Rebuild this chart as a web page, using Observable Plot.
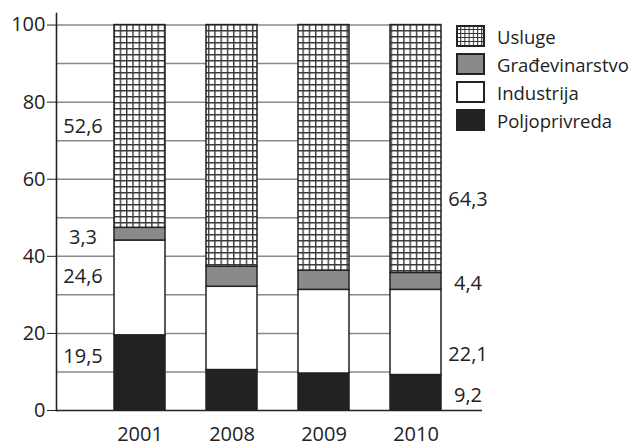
<!DOCTYPE html>
<html>
<head>
<meta charset="utf-8">
<script src="https://cdn.jsdelivr.net/npm/d3@7"></script>
<script src="https://cdn.jsdelivr.net/npm/@observablehq/plot@0.6"></script>
<style>
  body { margin: 0; background: #fff; }
  #chart { position: relative; width: 634px; height: 447px; font-family: "Open Sans", sans-serif; color: #222; }
  #chart svg { display: block; }
  #legend { position: absolute; left: 456px; top: 22px; }
  .item { display: flex; align-items: center; height: 28px; }
  .item svg { margin-right: 12px; }
  .item span { font-size: 18.5px; line-height: 21px; }
</style>
</head>
<body>
<div id="chart"></div>
<script>
// ---- data ----
const years = ["2001", "2008", "2009", "2010"];
const sectors = ["Poljoprivreda", "Industrija", "Građevinarstvo", "Usluge"];
const poljoprivreda = [19.5, 10.5, 9.6, 9.2];
const industrija = [24.6, 21.6, 21.7, 22.1];
const gradjevinarstvo = [3.3, 5.2, 5.0, 4.4];
const usluge = [52.6, 62.7, 63.7, 64.3];
const yTicks = [0, 20, 40, 60, 80, 100];
const gridLines = [10, 20, 30, 40, 50, 60, 70, 80, 90, 100];
const legendOrder = ["Usluge", "Građevinarstvo", "Industrija", "Poljoprivreda"];

// ---- styles ----
const sectorColors = ["#222222", "#ffffff", "#8a8a8a", "url(#hatch)"];
const nudge2001 = [-16, -11, 3, 0];    // pixel nudges of labels (polj, ind, građ, usl)
const nudge2010 = [3, 22, 2, 51];

const series = [poljoprivreda, industrija, gradjevinarstvo, usluge];
const data = [];
years.forEach((year, i) => sectors.forEach((sector, j) => data.push({year, sector, value: series[j][i]})));
const fmt = v => String(v.toFixed(1)).replace(".", ",");

function labelMarks(year, dx, nudges) {
  const i = years.indexOf(year);
  let cum = 0;
  return sectors.map((sector, j) => {
    const v = series[j][i];
    const mid = cum + v / 2;
    cum += v;
    return Plot.text([{year, mid, label: fmt(v)}], {
      x: "year", y: "mid", text: "label", dx, dy: nudges[j],
      textAnchor: "middle", fontSize: 20, fill: "#222"
    });
  });
}

const plot = Plot.plot({
  width: 634,
  height: 447,
  marginLeft: 56,
  marginRight: 193,
  marginTop: 13,
  marginBottom: 37,
  style: {fontFamily: "'Open Sans', sans-serif", fontSize: "20px", color: "#222", background: "#fff"},
  x: {type: "band", domain: years, paddingInner: 0.446, paddingOuter: 0.315, align: 1, label: null},
  y: {domain: [0, 103], label: null},
  color: {type: "ordinal", domain: sectors, range: sectorColors},
  marks: [
    Plot.ruleY(gridLines, {stroke: "#8a8a8a", strokeWidth: 1.5}),
    Plot.barY(data, Plot.stackY({x: "year", y: "value", fill: "sector", z: "sector", order: sectors, stroke: "#222", strokeWidth: 1.5})),
    Plot.ruleY([0], {stroke: "#222", strokeWidth: 1.6, insetRight: -41}),
    Plot.frame({anchor: "left", stroke: "#222", strokeWidth: 1.6}),
    Plot.axisY({ticks: yTicks, tickSize: 9, tickPadding: 2, tickFormat: d => String(d), fontSize: 20, stroke: "#222", label: null}),
    Plot.axisX({tickSize: 0, tickPadding: 16, fontSize: 20, label: null}),
    ...labelMarks("2001", -57, nudge2001),
    ...labelMarks("2010", 52, nudge2010)
  ]
});

// hatch pattern for "Usluge"
const defs = d3.select(plot).insert("defs", ":first-child");
const pat = defs.append("pattern").attr("id", "hatch").attr("patternUnits", "userSpaceOnUse")
  .attr("width", 6.3).attr("height", 6);
pat.append("rect").attr("width", 6.3).attr("height", 6).attr("fill", "#fff");
pat.append("path").attr("d", "M0,0.7H6.3M0.7,0V6").attr("stroke", "#3a3a3a").attr("stroke-width", 1.4).attr("fill", "none");

const chart = document.getElementById("chart");
chart.appendChild(plot);

// legend
const legend = document.createElement("div");
legend.id = "legend";
chart.appendChild(legend);
legendOrder.forEach(name => {
  const item = document.createElement("div");
  item.className = "item";
  const col = sectorColors[sectors.indexOf(name)];
  const isHatch = col.startsWith("url");
  const sw = `<svg width="29" height="22" viewBox="0 0 29 22">
    <defs><pattern id="lhatch" patternUnits="userSpaceOnUse" width="4.2" height="4"><rect width="4.2" height="4" fill="#fff"/><path d="M0,0.5H4.2M0.5,0V4" stroke="#333" stroke-width="1.1" fill="none"/></pattern></defs>
    <rect x="1" y="1" width="27" height="20" fill="${isHatch ? "url(#lhatch)" : col}" stroke="#222" stroke-width="2"/></svg>`;
  item.innerHTML = sw + `<span>${name}</span>`;
  legend.appendChild(item);
});
</script>
</body>
</html>
